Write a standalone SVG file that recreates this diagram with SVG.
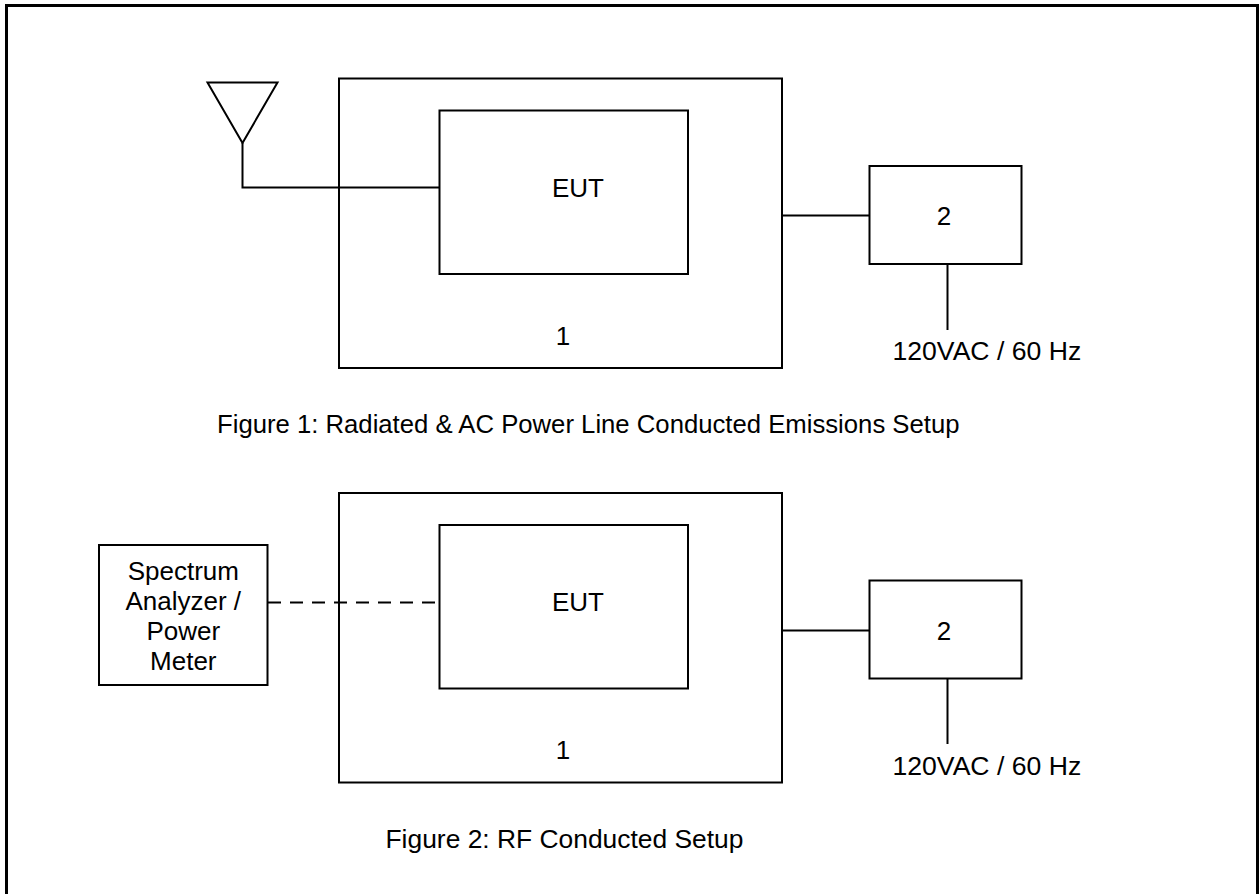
<svg xmlns="http://www.w3.org/2000/svg" width="1259" height="894" viewBox="0 0 1259 894">
  <style>
    .box { fill: none; stroke: #000; stroke-width: 2; }
    .wire { fill: none; stroke: #000; stroke-width: 2; }
    .dash { fill: none; stroke: #000; stroke-width: 2; stroke-dasharray: 13 9; }
    .t { font-family: "Liberation Sans", Arial, sans-serif; font-size: 26px; fill: #000; }
    .c { text-anchor: middle; }
    .pw { font-size: 26.6px; }
  </style>
  <rect x="6.5" y="5.5" width="1251" height="900" fill="#fff" stroke="#000" stroke-width="3"/>

  <g id="connectors">
    <polyline class="wire" points="242.5,143 242.5,187.5 439,187.5"/>
    <line class="wire" x1="782" y1="215.5" x2="869" y2="215.5"/>
    <line class="wire" x1="947.5" y1="264" x2="947.5" y2="330"/>
    <line class="dash" x1="268" y1="602.5" x2="439" y2="602.5"/>
    <line class="wire" x1="782" y1="630.5" x2="869" y2="630.5"/>
    <line class="wire" x1="947.5" y1="678" x2="947.5" y2="744"/>
  </g>

  <g id="antenna">
    <polygon class="box" points="207.5,82.5 277.5,82.5 242.5,143"/>
  </g>

  <g id="fig1-enclosure">
    <rect class="box" x="339" y="78.5" width="443" height="289.5"/>
    <text class="t c" x="563" y="345">1</text>
  </g>
  <g id="fig1-eut">
    <rect class="box" x="439.5" y="110.5" width="248.5" height="163.5"/>
    <text class="t" x="552" y="197">EUT</text>
  </g>
  <g id="fig1-box2">
    <rect class="box" x="869.5" y="166" width="152" height="98"/>
    <text class="t c" x="944" y="225">2</text>
  </g>
  <g id="fig1-power">
    <text class="t pw" x="892.5" y="360">120VAC / 60 Hz</text>
  </g>
  <g id="fig1-caption">
    <text class="t" x="217" y="433" style="font-size:25.7px">Figure 1: Radiated &amp; AC Power Line Conducted Emissions Setup</text>
  </g>

  <g id="spectrum-analyzer">
    <rect class="box" x="99" y="545" width="168.5" height="140"/>
    <text class="t c" x="183.3" y="580">Spectrum</text>
    <text class="t c" x="183.3" y="610">Analyzer /</text>
    <text class="t c" x="183.3" y="640">Power</text>
    <text class="t c" x="183.3" y="670">Meter</text>
  </g>
  <g id="fig2-enclosure">
    <rect class="box" x="339" y="493" width="443" height="289.5"/>
    <text class="t c" x="563" y="759">1</text>
  </g>
  <g id="fig2-eut">
    <rect class="box" x="439.5" y="525" width="248.5" height="163.5"/>
    <text class="t" x="552" y="611">EUT</text>
  </g>
  <g id="fig2-box2">
    <rect class="box" x="869.5" y="580.5" width="152" height="98"/>
    <text class="t c" x="944" y="640">2</text>
  </g>
  <g id="fig2-power">
    <text class="t pw" x="892.5" y="775">120VAC / 60 Hz</text>
  </g>
  <g id="fig2-caption">
    <text class="t" x="385.5" y="848" style="font-size:26.4px">Figure 2: RF Conducted Setup</text>
  </g>
</svg>
